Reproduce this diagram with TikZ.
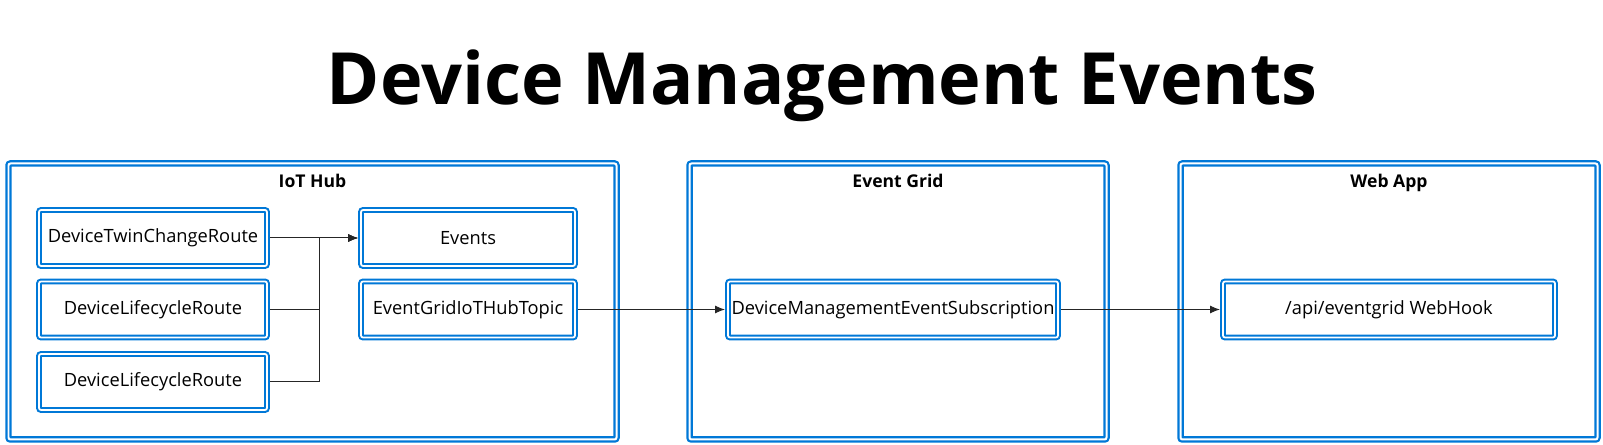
\documentclass[tikz,border=0pt]{standalone}
\usepackage{fontspec}
\setmainfont{Open Sans}
\usetikzlibrary{arrows.meta}
\definecolor{azure}{RGB}{0,120,215}

\begin{document}
\begin{tikzpicture}[>=stealth,
	box/.style={draw=azure, double=white, line width=0.04cm, double distance=0.035cm, rounded corners=0.04cm, outer sep=0.06cm, inner sep=0pt},
	group/.style={box, line width=0.045cm, double distance=0.04cm, outer sep=0.065cm, minimum height=5.52cm},
	route/.style={box, minimum width=4.56cm, minimum height=1.12cm, font=\fontsize{10.4}{12}\selectfont},
	grouplabel/.style={anchor=base, font=\bfseries\fontsize{10}{12}\selectfont},
	conn/.style={-{Latex[length=0.2cm, width=0.16cm]}, line width=0.02cm, black!85}]
	\useasboundingbox (0, 0) rectangle (32.06, 8.9);

	\node[anchor=base, font=\bfseries\fontsize{41}{48}\selectfont] (title) at (16.44, 6.8) {Device Management Events};

	\node[group, minimum width=12.16cm] (iothub) at (6.25, 2.87) {};
	\node[group, minimum width=8.34cm] (eventgrid) at (17.96, 2.87) {};
	\node[group, minimum width=8.34cm] (webapp) at (27.78, 2.87) {};
	\node[grouplabel] (iothubLabel) at ([yshift=-0.55cm]iothub.north) {IoT Hub};
	\node[grouplabel] (eventgridLabel) at ([yshift=-0.55cm]eventgrid.north) {Event Grid};
	\node[grouplabel] (webappLabel) at ([yshift=-0.55cm]webapp.north) {Web App};

	\node[route] (twin) at (3.06, 4.14) {DeviceTwinChangeRoute};
	\node[route] (lifecycleA) at (3.06, 2.71) {DeviceLifecycleRoute};
	\node[route] (lifecycleB) at (3.06, 1.26) {DeviceLifecycleRoute};
	\node[route, minimum width=4.28cm] (events) at (9.36, 4.14) {Events};
	\node[route, minimum width=4.28cm] (topic) at (9.36, 2.71) {EventGridIoTHubTopic};
	\node[route, minimum width=6.6cm] (subscription) at (17.86, 2.71) {DeviceManagementEventSubscription};
	\node[route, minimum width=6.64cm] (webhook) at (27.78, 2.71) {/api/eventgrid WebHook};

	\coordinate (join) at (6.38, 4.14);
	\draw[conn] (twin.east) -- (events.west);
	\draw[conn] (lifecycleA.east) -| (join) -- (events.west);
	\draw[conn] (lifecycleB.east) -| (join) -- (events.west);
	\draw[conn] (topic.east) -- (subscription.west);
	\draw[conn] (subscription.east) -- (webhook.west);

\end{tikzpicture}
\end{document}
